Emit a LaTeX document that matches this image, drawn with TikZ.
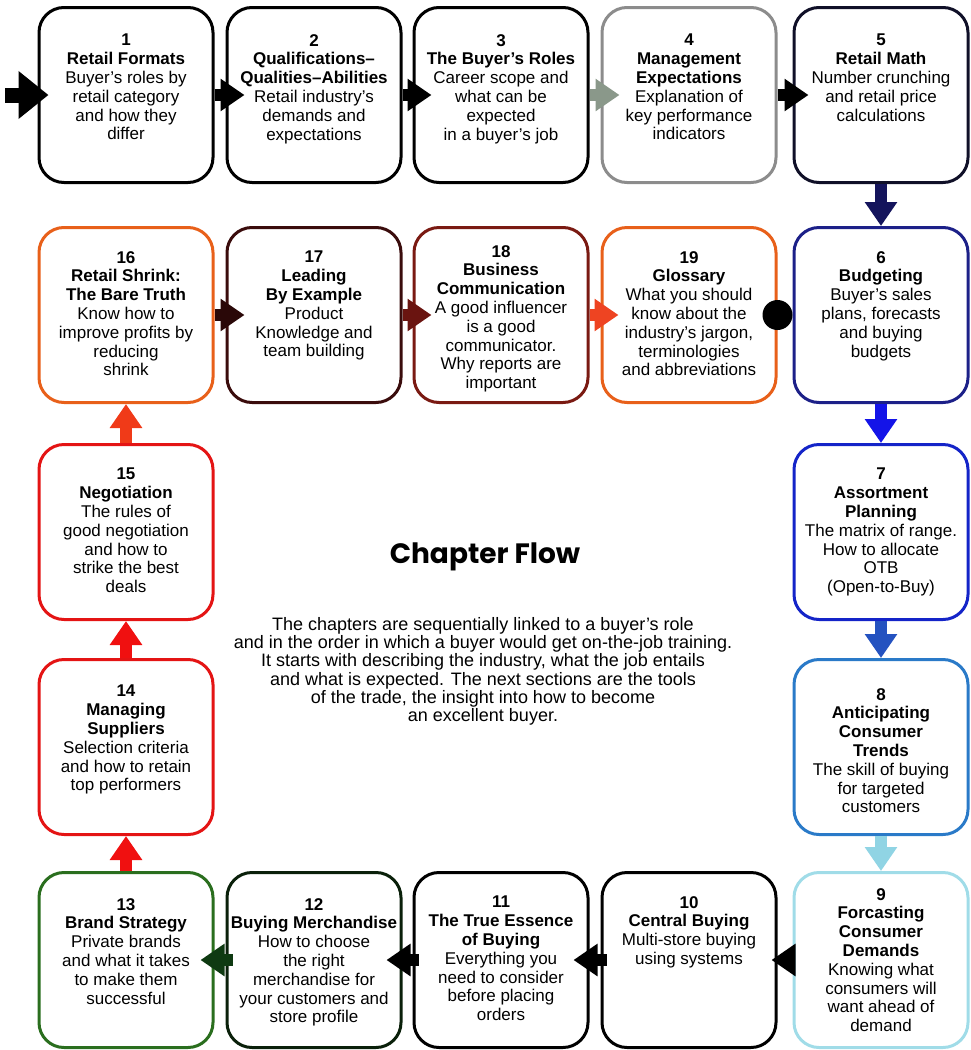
\documentclass[tikz,border=0pt]{standalone}
\usepackage{fontspec}
\setmainfont{Liberation Sans}
\newfontfamily\flowfont{Poppins}
\usepackage{xcolor}
\usetikzlibrary{positioning,arrows.meta}

\definecolor{grayline}{HTML}{8C8C8C}
\definecolor{grayarrow}{HTML}{8A988A}
\definecolor{nightblue}{HTML}{101028}
\definecolor{navyline}{HTML}{1C2088}
\definecolor{navyarrow}{HTML}{14145C}
\definecolor{blueline}{HTML}{1424C8}
\definecolor{bluearrow}{HTML}{1414E8}
\definecolor{midline}{HTML}{2A7AC8}
\definecolor{midarrow}{HTML}{2452C0}
\definecolor{skyline}{HTML}{A0DCE8}
\definecolor{skyarrow}{HTML}{90D4E4}
\definecolor{darkgreen}{HTML}{0A200A}
\definecolor{greenarrow}{HTML}{0F3A12}
\definecolor{greenline}{HTML}{2A6E1E}
\definecolor{redline}{HTML}{E41414}
\definecolor{redarrow}{HTML}{F01010}
\definecolor{tomato}{HTML}{F03A18}
\definecolor{orangeline}{HTML}{E8601A}
\definecolor{brownarrow}{HTML}{2A0808}
\definecolor{brownline}{HTML}{3A0C0C}
\definecolor{rustarrow}{HTML}{6A1410}
\definecolor{rustline}{HTML}{7A1A12}
\definecolor{flamearrow}{HTML}{EE4422}

\begin{document}
\begin{tikzpicture}[x=1pt,y=-1pt,
    chapbox/.style={draw=#1, line width=3pt, rounded corners=25pt,
      minimum width=174pt, minimum height=175pt, inner sep=0pt},
    chaptext/.style={align=center, inner sep=0pt,
      font=\fontsize{17}{18.8}\selectfont},
    flow/.style={draw=#1, line width=12pt, -{Triangle[width=31pt,length=24pt]}}]
    \useasboundingbox (0,0) rectangle (971,1050);

    % top row
    \node[chapbox=black] (b1) at (126,95) {};
    \node[chapbox=black] (b2) at (314,95) {};
    \node[chapbox=black] (b3) at (501,95) {};
    \node[chapbox=grayline] (b4) at (689,95) {};
    \node[chapbox=nightblue] (b5) at (881,95) {};

    % second row
    \node[chapbox=orangeline] (b16) at (126,315) {};
    \node[chapbox=brownline] (b17) at (314,315) {};
    \node[chapbox=rustline] (b18) at (501,315) {};
    \node[chapbox=orangeline] (b19) at (689,315) {};
    \node[chapbox=navyline] (b6) at (881,315) {};

    % side columns
    \node[chapbox=redline] (b15) at (126,532) {};
    \node[chapbox=blueline] (b7) at (881,532) {};
    \node[chapbox=redline] (b14) at (126,747) {};
    \node[chapbox=midline] (b8) at (881,747) {};

    % bottom row
    \node[chapbox=greenline] (b13) at (126,960) {};
    \node[chapbox=darkgreen] (b12) at (314,960) {};
    \node[chapbox=black] (b11) at (501,960) {};
    \node[chapbox=black] (b10) at (689,960) {};
    \node[chapbox=skyline] (b9) at (881,960) {};

    % texts
    \node[chaptext, below=28pt of b1.north] (t1) {\textbf{1}\\\textbf{Retail Formats}\\Buyer's roles by\\retail category\\and how they\\differ};
    \node[chaptext, below=28pt of b2.north] (t2) {\textbf{2}\\\textbf{Qualifications–}\\\textbf{Qualities–Abilities}\\Retail industry's\\demands and\\expectations};
    \node[chaptext, below=28pt of b3.north] (t3) {\textbf{3}\\\textbf{The Buyer's Roles}\\Career scope and\\what can be\\expected\\in a buyer's job};
    \node[chaptext, below=28pt of b4.north] (t4) {\textbf{4}\\\textbf{Management}\\\textbf{Expectations}\\Explanation of\\key performance\\indicators};
    \node[chaptext, below=28pt of b5.north] (t5) {\textbf{5}\\\textbf{Retail Math}\\Number crunching\\and retail price\\calculations};
    \node[chaptext, below=25pt of b6.north] (t6) {\textbf{6}\\\textbf{Budgeting}\\Buyer's sales\\plans, forecasts\\and buying\\budgets};
    \node[chaptext, below=25pt of b7.north] (t7) {\textbf{7}\\\textbf{Assortment}\\\textbf{Planning}\\The matrix of range.\\How to allocate\\OTB\\(Open-to-Buy)};
    \node[chaptext, below=30pt of b8.north] (t8) {\textbf{8}\\\textbf{Anticipating}\\\textbf{Consumer}\\\textbf{Trends}\\The skill of buying\\for targeted\\customers};
    \node[chaptext, below=17pt of b9.north] (t9) {\textbf{9}\\\textbf{Forcasting}\\\textbf{Consumer}\\\textbf{Demands}\\Knowing what\\consumers will\\want ahead of\\demand};
    \node[chaptext, below=25pt of b10.north] (t10) {\textbf{10}\\\textbf{Central Buying}\\Multi-store buying\\using systems};
    \node[chaptext, below=25pt of b11.north] (t11) {\textbf{11}\\\textbf{The True Essence}\\\textbf{of Buying}\\Everything you\\need to consider\\before placing\\orders};
    \node[chaptext, below=27pt of b12.north] (t12) {\textbf{12}\\\textbf{Buying Merchandise}\\How to choose\\the right\\merchandise for\\your customers and\\store profile};
    \node[chaptext, below=27pt of b13.north] (t13) {\textbf{13}\\\textbf{Brand Strategy}\\Private brands\\and what it takes\\to make them\\successful};
    \node[chaptext, below=27pt of b14.north] (t14) {\textbf{14}\\\textbf{Managing}\\\textbf{Suppliers}\\Selection criteria\\and how to retain\\top performers};
    \node[chaptext, below=25pt of b15.north] (t15) {\textbf{15}\\\textbf{Negotiation}\\The rules of\\good negotiation\\and how to\\strike the best\\deals};
    \node[chaptext, below=25pt of b16.north] (t16) {\textbf{16}\\\textbf{Retail Shrink:}\\\textbf{The Bare Truth}\\Know how to\\improve profits by\\reducing\\shrink};
    \node[chaptext, below=25pt of b17.north] (t17) {\textbf{17}\\\textbf{Leading}\\\textbf{By Example}\\Product\\Knowledge and\\team building};
    \node[chaptext, below=19pt of b18.north] (t18) {\textbf{18}\\\textbf{Business}\\\textbf{Communication}\\A good influencer\\is a good\\communicator.\\Why reports are\\important};
    \node[chaptext, below=25pt of b19.north] (t19) {\textbf{19}\\\textbf{Glossary}\\What you should\\know about the\\industry's jargon,\\terminologies\\and abbreviations};

    % centre
    \node[font=\flowfont\bfseries\fontsize{28}{30}\selectfont] (title) at (485,557) {Chapter Flow};
    \node[anchor=north, align=center, inner sep=0pt, font=\fontsize{18}{18.3}\selectfont] (intro) at (483,617)
      {The chapters are sequentially linked to a buyer's role\\
       and in the order in which a buyer would get on-the-job training.\\
       It starts with describing the industry, what the job entails\\
       and what is expected. The next sections are the tools\\
       of the trade, the insight into how to become\\
       an excellent buyer.};

    % arrows
    \coordinate (start) at (5,95);
    \draw[flow=black, line width=15pt, -{Triangle[width=46pt,length=30pt]}, shorten >=-11pt] (start) -- (b1.west);
    \draw[flow=black, shorten >=-19pt] (b1.east) -- (b2.west);
    \draw[flow=black, shorten >=-19pt] (b2.east) -- (b3.west);
    \draw[flow=grayarrow, shorten >=-19pt] (b3.east) -- (b4.west);
    \draw[flow=black, shorten >=-16pt] (b4.east) -- (b5.west);
    \draw[flow=navyarrow] (b5.south) -- (b6.north);
    \draw[flow=bluearrow] (b6.south) -- (b7.north);
    \draw[flow=midarrow] (b7.south) -- (b8.north);
    \draw[flow=skyarrow] (b8.south) -- (b9.north);
    \draw[flow=black, shorten >=-6pt, shorten <=-12pt] (b9.west) -- (b10.east);
    \draw[flow=black, shorten >=-16pt, shorten <=-6pt] (b10.west) -- (b11.east);
    \draw[flow=black, shorten >=-16pt, shorten <=-6pt] (b11.west) -- (b12.east);
    \draw[flow=greenarrow, shorten >=-14pt, shorten <=-7pt] (b12.west) -- (b13.east);
    \draw[flow=redarrow] (b13.north) -- (b14.south);
    \draw[flow=redarrow] (b14.north) -- (b15.south);
    \draw[flow=tomato] (b15.north) -- (b16.south);
    \draw[flow=brownarrow, shorten >=-19pt] (b16.east) -- (b17.west);
    \draw[flow=rustarrow, shorten >=-19pt] (b17.east) -- (b18.west);
    \draw[flow=flamearrow, shorten >=-18pt] (b18.east) -- (b19.west);

    \node[circle, fill=black, minimum size=30pt, inner sep=0pt] (dot) at (b19.east) {};
\end{tikzpicture}
\end{document}
